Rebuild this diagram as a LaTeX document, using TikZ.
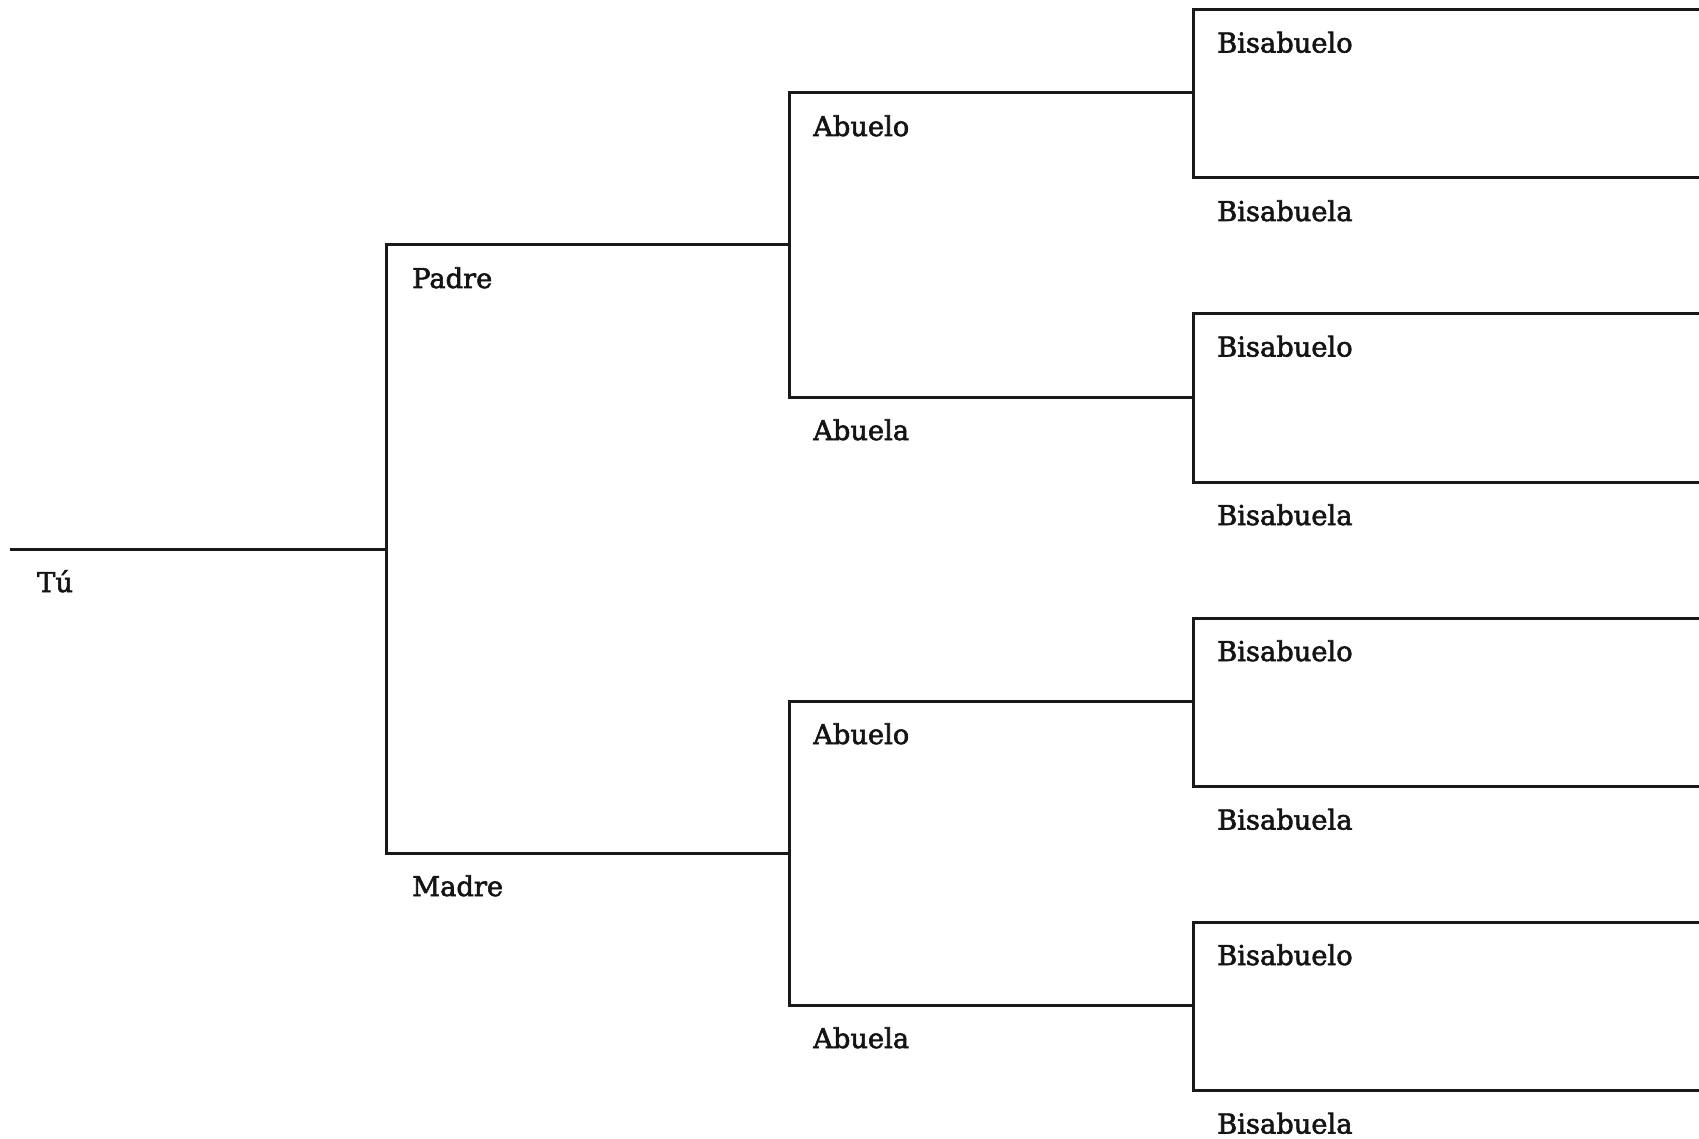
\documentclass[tikz,border=0pt]{standalone}
\usepackage{fontspec}
\setmainfont{DejaVu Serif}
\newfontfamily\lblfont{DejaVu Serif}[FakeBold=2.2]
\begin{document}
\begin{tikzpicture}[x=1pt,y=-1pt,
  tree/.style={line width=3pt, draw=black!90, line cap=rect},
  lbl/.style={anchor=base west, inner sep=0pt, text=black!92,
    font=\lblfont\fontsize{27.3}{32}\selectfont}]
\useasboundingbox (0,0) rectangle (1699,1139);
% coordinates
\coordinate (tuL) at (11,549);
\coordinate (tuR) at (386,549);
\coordinate (paL) at (386,245);
\coordinate (paR) at (789,245);
\coordinate (maL) at (386,853);
\coordinate (maR) at (789,853);
\coordinate (ab1L) at (789,93);  \coordinate (ab1R) at (1193,93);
\coordinate (aa1L) at (789,397); \coordinate (aa1R) at (1193,397);
\coordinate (ab2L) at (789,701); \coordinate (ab2R) at (1193,701);
\coordinate (aa2L) at (789,1005);\coordinate (aa2R) at (1193,1005);
\foreach \i/\t in {1/9.5,2/313.5,3/618,4/922}{
  \coordinate (b\i tL) at (1193,\t);
  \coordinate (b\i tR) at (1705,\t);
  \coordinate (b\i bL) at (1193,\t+168.5);
  \coordinate (b\i bR) at (1705,\t+168.5);
}
% lines
\draw[tree] (tuL) -- (tuR);
\draw[tree] (paR) -- (paL) -- (maL) -- (maR);
\draw[tree] (ab1R) -- (ab1L) -- (aa1L) -- (aa1R);
\draw[tree] (ab2R) -- (ab2L) -- (aa2L) -- (aa2R);
\foreach \i in {1,2,3,4}{
  \draw[tree] (b\i tR) -- (b\i tL) -- (b\i bL) -- (b\i bR);
}
% labels
\node[lbl] (tu) at ([shift={(26,43)}]tuL) {Tú};
\node[lbl] (padre) at ([shift={(26,43)}]paL) {Padre};
\node[lbl] (madre) at ([shift={(26,43)}]maL) {Madre};
\node[lbl] (abuelo1) at ([shift={(24,43)}]ab1L) {Abuelo};
\node[lbl] (abuela1) at ([shift={(24,43)}]aa1L) {Abuela};
\node[lbl] (abuelo2) at ([shift={(24,43)}]ab2L) {Abuelo};
\node[lbl] (abuela2) at ([shift={(24,43)}]aa2L) {Abuela};
\foreach \i in {1,2,3,4}{
  \node[lbl] (bo\i) at ([shift={(24,43)}]b\i tL) {Bisabuelo};
  \node[lbl] (ba\i) at ([shift={(24,43)}]b\i bL) {Bisabuela};
}
\end{tikzpicture}
\end{document}
